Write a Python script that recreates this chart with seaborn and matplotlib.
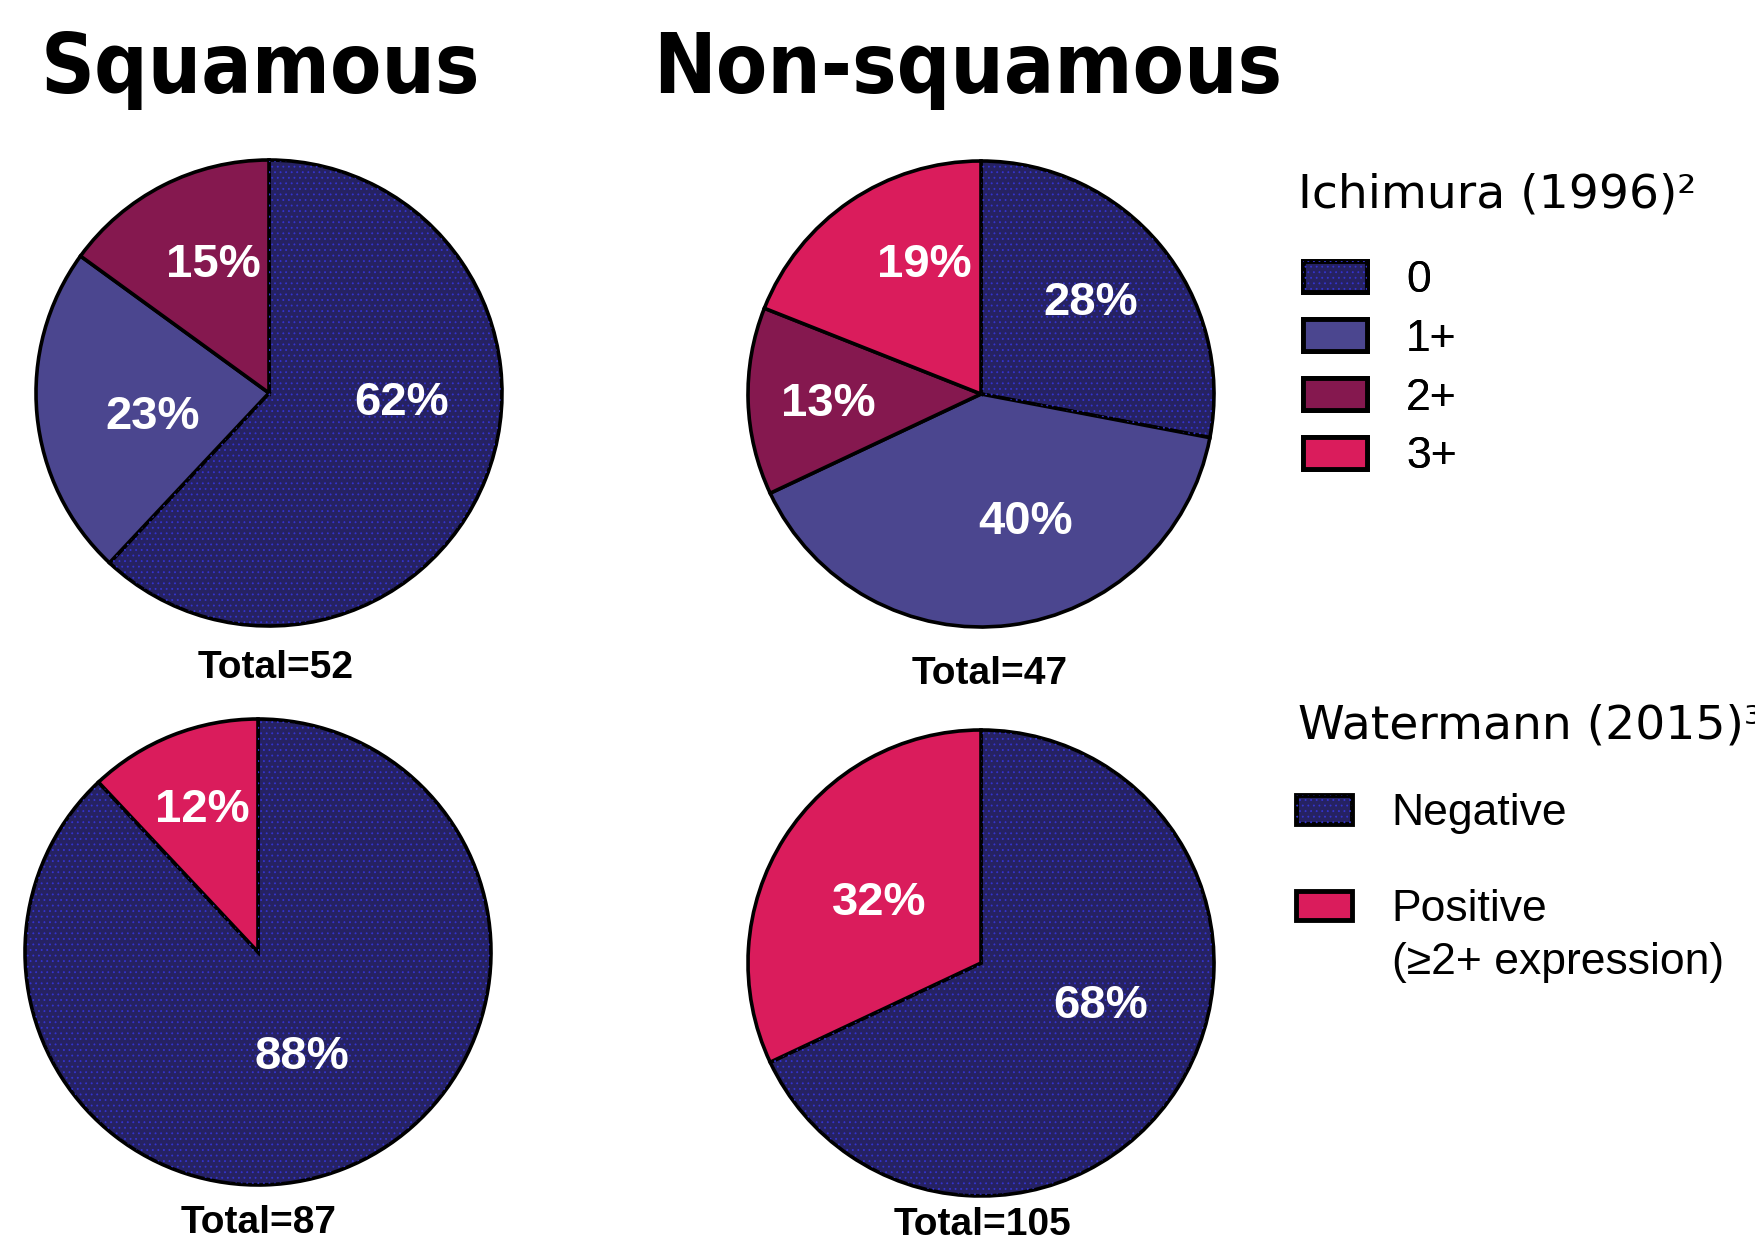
import matplotlib
matplotlib.use("Agg")
import matplotlib.pyplot as plt
from matplotlib.patches import Patch, Wedge
from matplotlib.legend_handler import HandlerTuple
import seaborn as sns

# ---- data ----
ichimura_levels = ["0", "1+", "2+", "3+"]
squamous_ichimura = [62, 23, 15]          # 0, 1+, 2+
nonsquamous_ichimura = [28, 40, 13, 19]   # 0, 1+, 2+, 3+
watermann_levels = ["Negative", "Positive"]
positive_note = "(\u22652+ expression)"
squamous_watermann = [88, 12]
nonsquamous_watermann = [68, 32]
totals = [52, 47, 87, 105]
column_titles = ["Squamous", "Non-squamous"]
legend_titles = ["Ichimura (1996)\u00b2", "Watermann (2015)\u00b3"]

# ---- style ----
sns.set_theme(style="white")
plt.rcParams["text.color"] = "black"
plt.rcParams["hatch.linewidth"] = 0.6
palette = sns.color_palette(["#262262", "#4b468f", "#85184f", "#da1c5c"])
navy, violet, maroon, pink = palette
dot_color = "#3434d0"

W, H = 1756, 1242
fig = plt.figure(figsize=(W / 100, H / 100), dpi=100)
fig.patch.set_facecolor("white")

R = 233
PAD = 1.04
pie_specs = [
    # values, colors, centre (px), label offsets (in radii)
    (squamous_ichimura, [navy, violet, maroon], (269, 393),
     [(0.567, -0.045), (-0.50, -0.105), (-0.24, 0.55)]),
    (nonsquamous_ichimura, [navy, violet, maroon, pink], (981, 394),
     [(0.471, 0.39), (0.19, -0.55), (-0.654, -0.045), (-0.245, 0.555)]),
    (squamous_watermann, [navy, pink], (258, 952),
     [(0.19, -0.45), (-0.24, 0.61)]),
    (nonsquamous_watermann, [navy, pink], (981, 963),
     [(0.514, -0.185), (-0.4375, 0.258)]),
]

pct_font = dict(family="Liberation Sans", weight="bold", size=34, color="white")

for (values, colors, (cx, cy), offsets), total in zip(pie_specs, totals):
    ax = fig.add_axes([(cx - R * PAD) / W, (H - cy - R * PAD) / H,
                       2 * R * PAD / W, 2 * R * PAD / H])
    wedges, _ = ax.pie(values, colors=colors, startangle=90, counterclock=False,
                       radius=1,
                       wedgeprops=dict(edgecolor="black", linewidth=2.6,
                                       clip_on=False))
    # fine dot texture on the navy segment
    for w, c in zip(wedges, colors):
        if c == navy:
            ax.add_patch(Wedge(w.center, w.r * 0.995, w.theta1, w.theta2,
                               facecolor="none", edgecolor=dot_color,
                               linewidth=0, hatch="...", zorder=w.get_zorder()))
    for v, (dx, dy) in zip(values, offsets):
        ax.text(dx, dy, f"{v}%", ha="center", va="center", **pct_font)
    ax.set_xlim(-PAD, PAD)
    ax.set_ylim(-PAD, PAD)
    ax.set_aspect("equal")
    ax.axis("off")

# totals under each pie
total_pos = [(276, 668), (990, 674), (259, 1223), (982, 1225)]
for t, (x, y) in zip(totals, total_pos):
    fig.text(x / W, 1 - y / H, f"Total={t}", ha="center", va="center",
             family="Liberation Sans", weight="bold", size=28, color="black")

# column headers
for title, x in zip(column_titles, [41, 653]):
    fig.text(x / W, 1 - 70 / H, title, ha="left", va="center",
             family="DejaVu Sans", weight="bold", stretch="condensed",
             size=60, color="black")

# legends
def legend_handle(c):
    base = Patch(facecolor=c, edgecolor="black", linewidth=3.5)
    if c == navy:
        dots = Patch(facecolor="none", edgecolor=dot_color, linewidth=0,
                     hatch="...")
        return (base, dots)
    return base

title_font = dict(family="DejaVu Sans", size=34, color="black")
fig.text(1298 / W, 1 - 195 / H, legend_titles[0], ha="left", va="center",
         **title_font)
fig.text(1298 / W, 1 - 726 / H, legend_titles[1], ha="left", va="center",
         **title_font)

common = dict(loc="upper left", frameon=False,
              prop=dict(family="Liberation Sans", size=32),
              alignment="left", borderpad=0, borderaxespad=0,
              handletextpad=0.88,
              handler_map={tuple: HandlerTuple(ndivide=1, pad=0)})

h1 = [legend_handle(c) for c in [navy, violet, maroon, pink]]
leg1 = fig.legend(h1, ichimura_levels, bbox_to_anchor=(1303 / W, 1 - 260 / H),
                  handlelength=1.44, handleheight=0.72, labelspacing=0.40,
                  **common)

h2 = [legend_handle(c) for c in [navy, pink]]
leg2 = fig.legend(h2, watermann_levels, bbox_to_anchor=(1296 / W, 1 - 793 / H),
                  handlelength=1.27, handleheight=0.62, labelspacing=1.24,
                  **common)
fig.add_artist(leg1)

# second line under the "Positive" entry
fig.canvas.draw()
bb = leg2.get_texts()[1].get_window_extent()
fig.text(bb.x0 / W, ((bb.y0 + bb.y1) / 2 - 53) / H, positive_note,
         ha="left", va="center", family="Liberation Sans", size=32,
         color="black")

fig.savefig("out.png", dpi=100, facecolor="white")
